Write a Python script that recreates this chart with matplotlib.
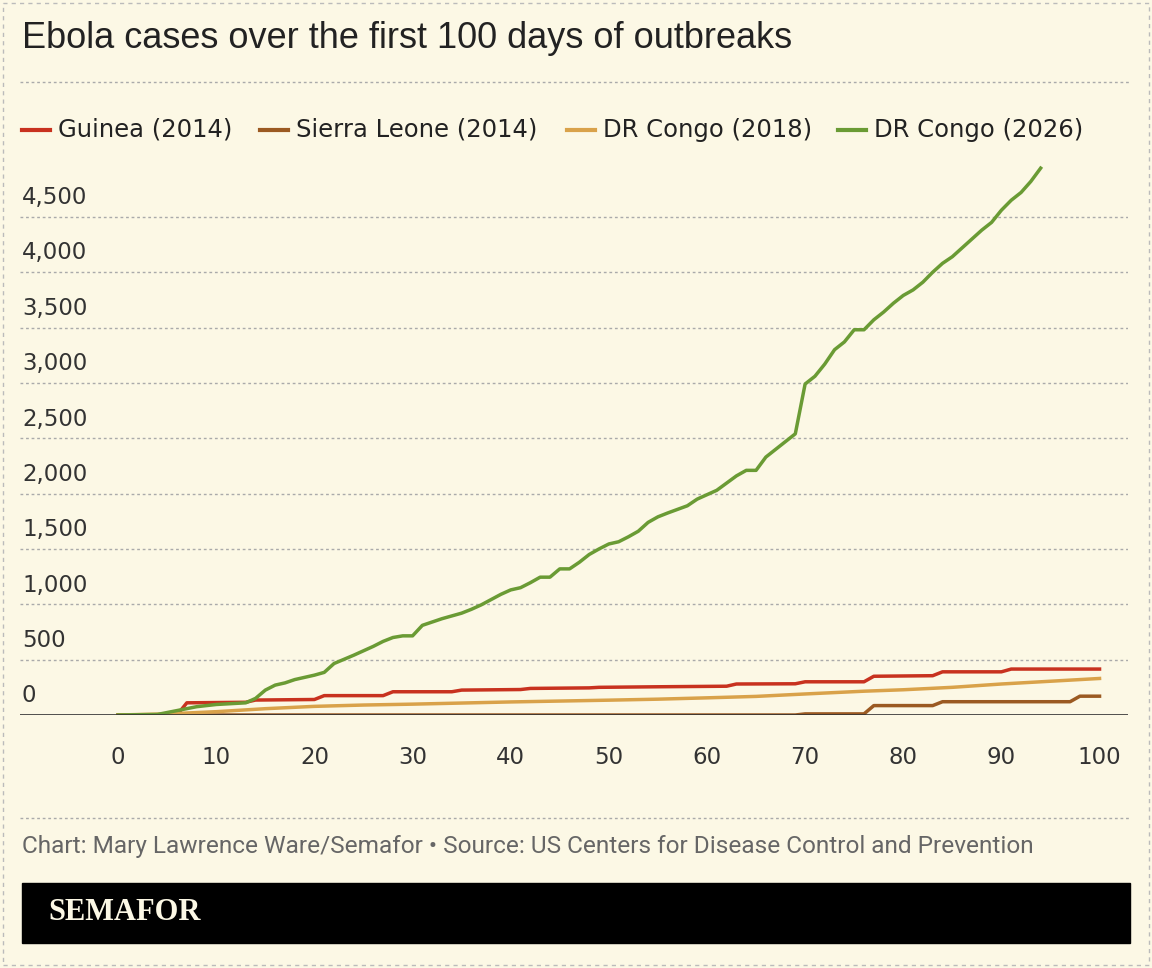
import matplotlib
matplotlib.use("Agg")
import matplotlib.pyplot as plt
from matplotlib.patches import Rectangle

gd = [0,4,6,8,10,13,14,15,16,17,18,20,21,22,24,26,27,28,29,30,31,33,35,36,37,39,40,41,42,43,44,45,46,47,48,49,50,51,52,53,54,55,56,58,59,60,61,62,63,64,65,66,67,68,69,70,71,72,73,74,75,76,77,78,79,80,81,82,83,84,85,86,87,88,89,90,91,92,93,94]
gv = [0,5,40,75,95,110,150,225,270,290,320,360,385,465,540,620,665,700,715,715,810,870,920,955,995,1090,1130,1150,1195,1245,1245,1320,1320,1380,1450,1500,1545,1565,1610,1660,1740,1790,1825,1890,1950,1990,2030,2095,2160,2210,2210,2330,2400,2470,2540,2990,3060,3170,3300,3370,3480,3480,3570,3640,3720,3790,3840,3910,4000,4080,4140,4220,4300,4380,4450,4560,4650,4720,4820,4940]

rd = [0,6,7,13,14,20,21,27,28,34,35,41,42,48,49,55,62,63,69,70,76,77,83,84,90,91,100]
rv = [0,0,110,115,135,140,175,175,210,210,225,230,240,245,250,255,260,280,282,300,300,350,355,390,390,415,415]

sd = [0,69,70,76,77,83,84,97,98,100]
sv = [0,0,10,10,85,85,120,120,170,170]

td = [0,5,10,15,20,25,30,35,40,45,50,55,60,65,70,76,80,85,90,95,100]
tv = [0,10,30,57,78,90,98,108,118,126,134,143,155,168,190,215,228,250,280,305,330]

series = [("Guinea (2014)", rd, rv, "#c8321f"),
          ("Sierra Leone (2014)", sd, sv, "#9b5a22"),
          ("DR Congo (2018)", td, tv, "#d9a24a"),
          ("DR Congo (2026)", gd, gv, "#6a9b34")]

bg = "#fcf8e5"
W, H = 1152, 968
fig = plt.figure(figsize=(W/100, H/100), dpi=100, facecolor=bg)
fnt = "DejaVu Sans"

def fx(p): return p / W
def fy(p): return 1 - p / H

ax = fig.add_axes([fx(20), fy(715), fx(1128) - fx(20), fy(152) - fy(715)])
ax.set_facecolor(bg)
ax.set_xlim(-10, 102.9)
ax.set_ylim(0, (715 - 152) / 0.1107)
for name, d, v, c in series:
    ax.plot(d, v, color=c, lw=2.5, solid_joinstyle="round")
for yv in range(500, 5000, 500):
    ax.axhline(yv, color="#aaaaaa", lw=1, ls=(0, (2, 2)), zorder=0)
    ax.text(-9.8, yv + 70, f"{yv:,}", fontsize=16.5, family=fnt, color="#333333", va="bottom", ha="left")
ax.text(-9.8, 70, "0", fontsize=16.5, family=fnt, color="#333333", va="bottom", ha="left")
ax.axhline(0, color="#333333", lw=1.2)
for s in ax.spines.values():
    s.set_visible(False)
ax.set_yticks([])
ax.set_xticks(range(0, 101, 10))
ax.tick_params(axis="x", length=0, pad=22, labelsize=16.5, colors="#333333")
for l in ax.get_xticklabels():
    l.set_family(fnt)

fig.text(fx(22), fy(38), "Ebola cases over the first 100 days of outbreaks", fontsize=26,
         family="Liberation Sans", color="#222222", va="center")
fig.add_artist(plt.Line2D([fx(20), fx(1130)], [fy(82), fy(82)], color="#aaaaaa", lw=1, ls=(0, (2, 2))))
fig.add_artist(plt.Line2D([fx(20), fx(1130)], [fy(818), fy(818)], color="#aaaaaa", lw=1, ls=(0, (2, 2))))

lx = [22, 260, 567, 838]
for (name, d, v, c), x in zip(series, lx):
    fig.add_artist(plt.Line2D([fx(x), fx(x + 28)], [fy(130), fy(130)], color=c, lw=3))
    fig.text(fx(x + 36), fy(130), name, fontsize=17.5, family=fnt, color="#222222", va="center")

fig.text(fx(22), fy(847), "Chart: Mary Lawrence Ware/Semafor \u2022 Source: US Centers for Disease Control and Prevention",
         fontsize=17.6, family="Roboto", color="#666666", va="center")
fig.add_artist(Rectangle((fx(22), fy(943)), fx(1130) - fx(22), fy(883) - fy(943), color="black",
                         transform=fig.transFigure))
fig.text(fx(48), fy(913), "SEMAFOR", fontsize=22, family="Liberation Serif", weight="bold", color="#fcf8e5", va="center")
fig.add_artist(Rectangle((fx(3), fy(965)), fx(1149) - fx(3), fy(3) - fy(965), fill=False, ec="#bbbbbb",
                         lw=1, ls=(0, (3, 3)), transform=fig.transFigure))
fig.savefig("out.png", dpi=100, facecolor=bg)
